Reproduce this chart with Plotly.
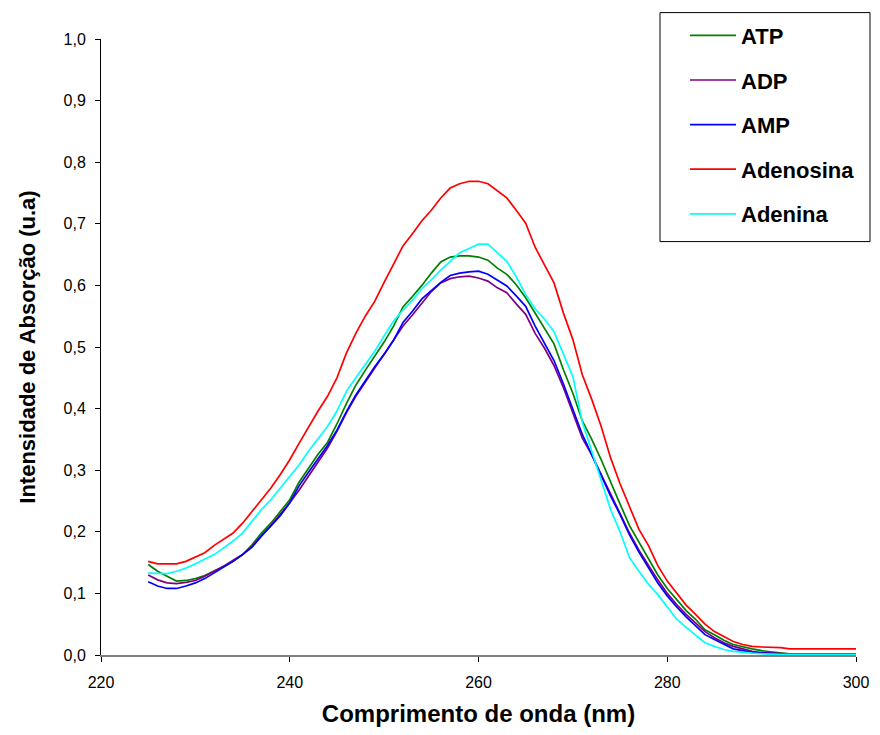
import plotly.graph_objects as go

wavelength = list(range(225, 301))

atp = [0.147, 0.136, 0.128, 0.120, 0.121, 0.124, 0.129, 0.136, 0.144, 0.152,
       0.163, 0.179, 0.198, 0.214, 0.233, 0.252, 0.281, 0.303, 0.326, 0.345,
       0.375, 0.408, 0.438, 0.462, 0.484, 0.508, 0.534, 0.565, 0.582, 0.600,
       0.620, 0.638, 0.646, 0.648, 0.648, 0.646, 0.641, 0.628, 0.618, 0.601,
       0.580, 0.555, 0.530, 0.505, 0.463, 0.425, 0.380, 0.350, 0.317, 0.280,
       0.245, 0.210, 0.183, 0.155, 0.130, 0.108, 0.090, 0.072, 0.058, 0.041,
       0.033, 0.024, 0.017, 0.013, 0.010, 0.007, 0.005, 0.003, 0.001, 0.000,
       0.000, 0.000, 0.000, 0.000, 0.000, 0.000]

adp = [0.130, 0.122, 0.117, 0.116, 0.118, 0.121, 0.128, 0.136, 0.144, 0.154,
       0.163, 0.176, 0.194, 0.210, 0.228, 0.247, 0.268, 0.290, 0.313, 0.336,
       0.363, 0.393, 0.420, 0.443, 0.466, 0.490, 0.512, 0.534, 0.552, 0.572,
       0.590, 0.604, 0.611, 0.614, 0.615, 0.612, 0.607, 0.596, 0.588, 0.570,
       0.553, 0.522, 0.498, 0.470, 0.434, 0.393, 0.352, 0.325, 0.293, 0.260,
       0.230, 0.198, 0.170, 0.145, 0.122, 0.100, 0.082, 0.066, 0.052, 0.038,
       0.028, 0.020, 0.014, 0.010, 0.006, 0.004, 0.003, 0.002, 0.002, 0.002,
       0.002, 0.002, 0.002, 0.002, 0.002, 0.002]

amp = [0.119, 0.112, 0.108, 0.108, 0.112, 0.117, 0.124, 0.133, 0.143, 0.152,
       0.163, 0.175, 0.193, 0.209, 0.226, 0.247, 0.275, 0.297, 0.318, 0.340,
       0.365, 0.395, 0.422, 0.445, 0.468, 0.488, 0.511, 0.540, 0.558, 0.578,
       0.592, 0.605, 0.616, 0.620, 0.622, 0.623, 0.618, 0.609, 0.599, 0.583,
       0.566, 0.534, 0.507, 0.478, 0.440, 0.400, 0.358, 0.325, 0.290, 0.258,
       0.228, 0.195, 0.167, 0.142, 0.117, 0.096, 0.078, 0.062, 0.048, 0.033,
       0.025, 0.017, 0.010, 0.007, 0.004, 0.003, 0.002, 0.002, 0.002, 0.002,
       0.002, 0.002, 0.002, 0.002, 0.002, 0.002]

adenosina = [0.152, 0.148, 0.148, 0.148, 0.152, 0.159, 0.166, 0.178, 0.188, 0.198,
             0.214, 0.233, 0.252, 0.271, 0.293, 0.317, 0.344, 0.371, 0.396, 0.420,
             0.450, 0.490, 0.522, 0.550, 0.574, 0.605, 0.635, 0.664, 0.684, 0.705,
             0.722, 0.742, 0.758, 0.765, 0.769, 0.769, 0.765, 0.753, 0.742, 0.722,
             0.701, 0.662, 0.632, 0.604, 0.555, 0.512, 0.455, 0.415, 0.371, 0.320,
             0.278, 0.242, 0.204, 0.178, 0.145, 0.120, 0.100, 0.081, 0.066, 0.050,
             0.038, 0.030, 0.022, 0.017, 0.014, 0.013, 0.013, 0.012, 0.010, 0.010,
             0.010, 0.010, 0.010, 0.010, 0.010, 0.010]

adenina = [0.133, 0.132, 0.132, 0.136, 0.141, 0.148, 0.155, 0.163, 0.174, 0.185,
           0.198, 0.217, 0.236, 0.252, 0.271, 0.290, 0.309, 0.331, 0.351, 0.371,
           0.396, 0.428, 0.450, 0.472, 0.493, 0.518, 0.542, 0.560, 0.576, 0.595,
           0.609, 0.625, 0.639, 0.653, 0.660, 0.667, 0.667, 0.653, 0.639, 0.614,
           0.585, 0.562, 0.545, 0.525, 0.490, 0.452, 0.378, 0.330, 0.283, 0.236,
           0.200, 0.158, 0.136, 0.115, 0.098, 0.078, 0.058, 0.045, 0.032, 0.020,
           0.014, 0.009, 0.006, 0.004, 0.003, 0.002, 0.001, 0.001, 0.001, 0.001,
           0.001, 0.001, 0.001, 0.001, 0.001, 0.001]

series_names = ["ATP", "ADP", "AMP", "Adenosina", "Adenina"]
series_values = [atp, adp, amp, adenosina, adenina]
series_colors = ["#008000", "#800080", "#0000FF", "#FF0000", "#00FFFF"]

x_ticks = [220, 240, 260, 280, 300]
y_ticks = [0.0, 0.1, 0.2, 0.3, 0.4, 0.5, 0.6, 0.7, 0.8, 0.9, 1.0]

FONT = "Liberation Sans, Arial, sans-serif"

fig = go.Figure()
for name, vals, col in zip(series_names, series_values, series_colors):
    fig.add_trace(go.Scatter(
        x=wavelength, y=vals, mode="lines", name=name, legendgroup=name,
        line=dict(color=col, width=1.7),
    ))

# page body has an 8px margin and only ~872px of width is visible
OFF = 8
W, H = 880 - 2 * OFF, 735 - 2 * OFF
plot_left, plot_right, plot_top, plot_bottom = 101 - OFF, 856 - OFF, 39.4 - OFF, 655.4 - OFF
L, R, T, B = plot_left, W - plot_right, plot_top, H - plot_bottom
pw = W - L - R
ph = H - T - B

def px2paper_x(px):
    return (px - OFF - L) / pw

def px2paper_y(py):
    return (plot_bottom - (py - OFF)) / ph

fig.add_shape(type="rect", xref="paper", yref="paper",
              x0=px2paper_x(660), x1=px2paper_x(870),
              y0=px2paper_y(242), y1=px2paper_y(13),
              line=dict(color="black", width=1), fillcolor="white", layer="below")

fig.update_layout(
    width=W, height=H,
    margin=dict(l=L, r=R, t=T, b=B, pad=0, autoexpand=False),
    paper_bgcolor="white", plot_bgcolor="white",
    separators=",.",
    font=dict(family=FONT, color="black", size=16),
    showlegend=True,
    legend=dict(
        x=px2paper_x(685), y=px2paper_y(15), xanchor="left", yanchor="top",
        bgcolor="rgba(0,0,0,0)", borderwidth=0,
        font=dict(family=FONT, size=22, color="black", weight="bold"),
        itemwidth=46, tracegroupgap=13, traceorder="grouped",
    ),
    xaxis=dict(
        range=[220, 300], tickvals=x_ticks, ticktext=[str(v) for v in x_ticks],
        showgrid=False, zeroline=False, showline=True, linecolor="#808080", linewidth=2,
        ticks="outside", ticklen=5, tickcolor="black", tickwidth=1,
        ticklabelstandoff=7, automargin=False,
        tickfont=dict(family=FONT, size=16),
        title=dict(text="Comprimento de onda (nm)", standoff=20,
                   font=dict(family=FONT, size=24, weight="bold")),
    ),
    yaxis=dict(
        range=[0, 1], tickvals=y_ticks, tickformat=".1f",
        showgrid=False, zeroline=False, showline=True, linecolor="black", linewidth=1,
        ticks="outside", ticklen=5, tickcolor="black", tickwidth=1,
        ticklabelstandoff=6, automargin=False,
        tickfont=dict(family=FONT, size=16),
        title=dict(text="Intensidade de Absorção (u.a)", standoff=21,
                   font=dict(family=FONT, size=22, weight="bold")),
    ),
)

fig.write_html("out.html")
